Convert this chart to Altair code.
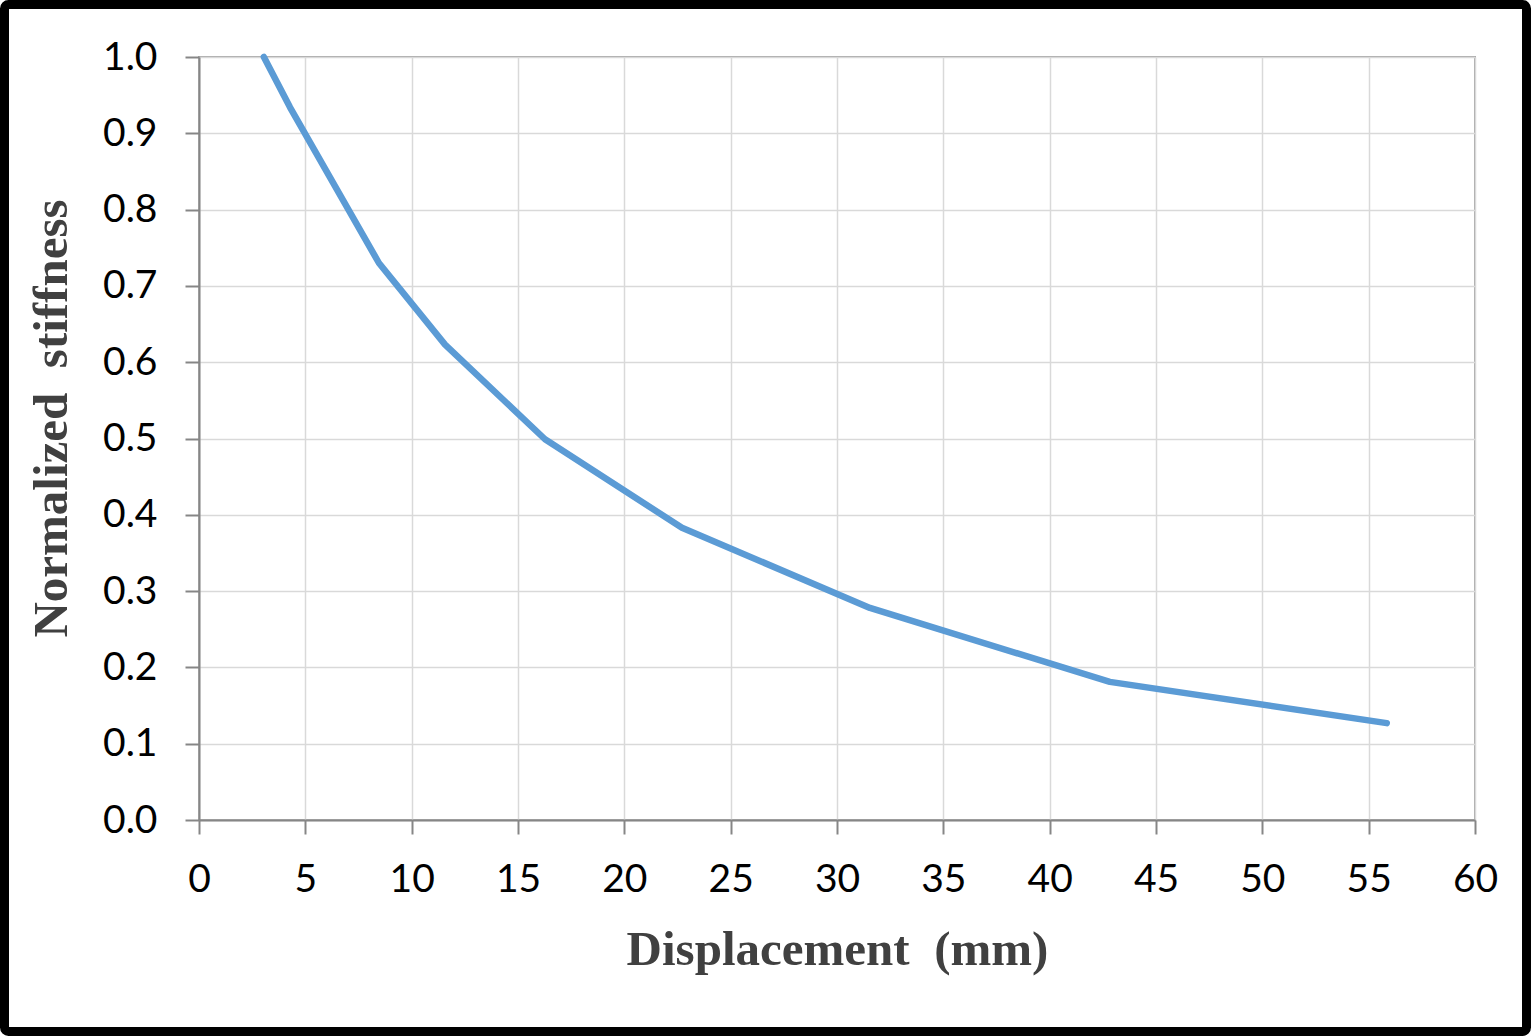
import altair as alt
import pandas as pd

displacement = [3.05, 4.28, 8.46, 11.57, 16.27, 22.71, 31.55, 42.83, 55.85]
stiffness = [1.0, 0.934, 0.730, 0.623, 0.499, 0.383, 0.278, 0.181, 0.127]

df = pd.DataFrame({"Displacement": displacement, "Stiffness": stiffness})

W, H = 1276, 763
PL, PT, PR, PB = 199, 57, 56, 216

line = alt.Chart(df).mark_line(color="#5b9bd5", strokeWidth=6.5, strokeCap="round", strokeJoin="round").encode(
    x=alt.X("Displacement:Q",
            scale=alt.Scale(domain=[0, 60], nice=False),
            axis=alt.Axis(values=list(range(0, 61, 5)), title="Displacement\u00a0\u00a0(mm)",
                          format="d")),
    y=alt.Y("Stiffness:Q",
            scale=alt.Scale(domain=[0, 1], nice=False),
            axis=alt.Axis(values=[i / 10 for i in range(11)], format=".1f",
                          title="Normalized\u00a0\u00a0stiffness", titleY=361)),
)

frame = alt.Chart(alt.Data(values=[{"a": 1}])).mark_rect(
    fill=None, stroke="black", strokeWidth=9, cornerRadius=4
).encode(
    x=alt.value(4.5 - PL), x2=alt.value(1531 - 4.5 - PL),
    y=alt.value(4.5 - PT), y2=alt.value(1036 - 4.5 - PT),
)

chart = alt.layer(line, frame).properties(
    width=W, height=H,
    autosize=alt.AutoSizeParams(type="none"),
    padding={"left": PL, "top": PT, "right": PR, "bottom": PB},
    background="white",
).configure_view(
    stroke="#a6a6a6", strokeWidth=2
).configure_axis(
    domainColor="#868686", domainWidth=2,
    tickColor="#868686", tickWidth=2, tickSize=14,
    gridColor="#d9d9d9", gridWidth=1.5,
    labelFont="Lato", labelFontSize=39, labelColor="#000000",
    labelFlush=False,
    titleFont="Liberation Serif", titleFontWeight="bold", titleFontSize=49,
    titleColor="#404040",
).configure_axisX(
    labelPadding=26, titlePadding=26,
).configure_axisY(
    labelPadding=28, titlePadding=26,
)

chart.save("out.html", embed_options={"renderer": "svg", "actions": False})
